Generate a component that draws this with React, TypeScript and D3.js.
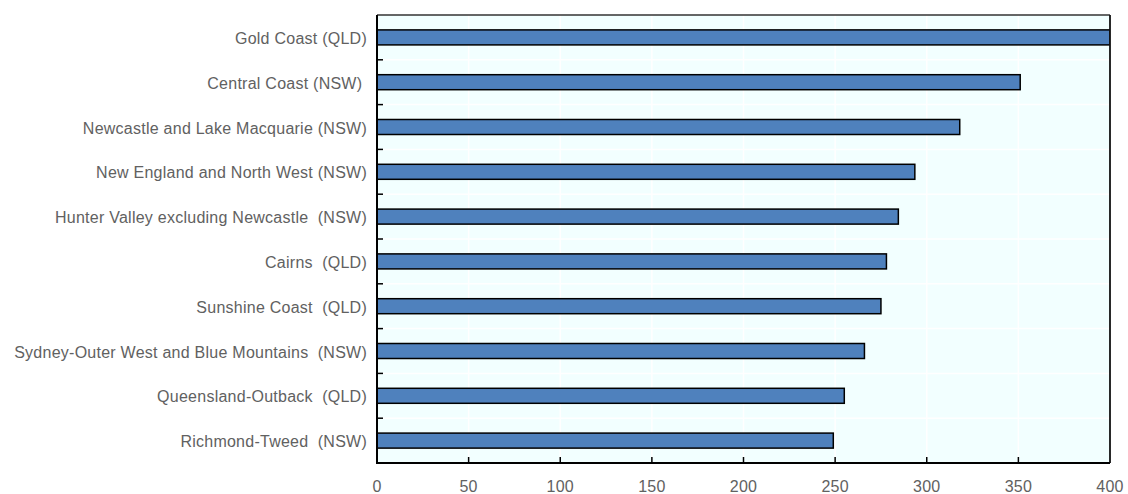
import React from "react";
import * as d3 from "d3";

const categories: string[] = [
  "Gold Coast (QLD)",
  "Central Coast (NSW) ",
  "Newcastle and Lake Macquarie (NSW)",
  "New England and North West (NSW)",
  "Hunter Valley excluding Newcastle  (NSW)",
  "Cairns  (QLD)",
  "Sunshine Coast  (QLD)",
  "Sydney-Outer West and Blue Mountains  (NSW)",
  "Queensland-Outback  (QLD)",
  "Richmond-Tweed  (NSW)",
];

const values: number[] = [400, 351, 318, 293.5, 284.5, 278, 275, 266, 255, 249];

const xTicks: number[] = [0, 50, 100, 150, 200, 250, 300, 350, 400];

const W = 1128;
const H = 494;
const margin = { left: 377, right: 18, top: 15, bottom: 31 };

export default function App() {
  const x = d3
    .scaleLinear()
    .domain([0, 400])
    .range([margin.left, W - margin.right]);
  const y = d3
    .scaleBand<string>()
    .domain(categories)
    .range([margin.top, H - margin.bottom])
    .padding(0);
  const bw = y.bandwidth();
  const barH = bw * 0.335;
  const x0 = margin.left;
  const x1 = W - margin.right;
  const y0 = margin.top;
  const y1 = H - margin.bottom;
  const boundaries = categories.slice(1).map((c) => y(c) as number);
  const font = "'Liberation Sans', Arial, sans-serif";
  const textColor = "#616161";

  return (
    <svg
      width={W}
      height={H}
      style={{ position: "absolute", left: 0, top: 0 }}
      xmlns="http://www.w3.org/2000/svg"
    >
      <defs>
        <clipPath id="plotclip">
          <rect x={x0} y={y0} width={x1 - x0} height={y1 - y0} />
        </clipPath>
      </defs>
      <rect x={0} y={0} width={W} height={H} fill="#ffffff" />
      <rect x={x0} y={y0} width={x1 - x0} height={y1 - y0} fill="#F2FFFF" />
      {xTicks.slice(1, -1).map((t) => (
        <line
          key={"gv" + t}
          x1={x(t)}
          x2={x(t)}
          y1={y0}
          y2={y1}
          stroke="#ffffff"
          strokeWidth={1.5}
        />
      ))}
      {boundaries.map((b, i) => (
        <line
          key={"gh" + i}
          x1={x0}
          x2={x1}
          y1={b}
          y2={b}
          stroke="#ffffff"
          strokeWidth={1.5}
        />
      ))}
      <g clipPath="url(#plotclip)">
        {categories.map((c, i) => {
          const cy = (y(c) as number) + bw / 2;
          return (
            <rect
              key={"b" + i}
              x={x(0)}
              y={cy - barH / 2}
              width={x(values[i]) - x(0)}
              height={barH}
              fill="#4F81BD"
              stroke="#000000"
              strokeWidth={1.5}
            />
          );
        })}
      </g>
      <line x1={x0} x2={x1} y1={y0} y2={y0} stroke="#333333" strokeWidth={1.5} />
      <line x1={x1} x2={x1} y1={y0} y2={y1} stroke="#111111" strokeWidth={1.8} />
      <line x1={x0} x2={x0} y1={y0} y2={y1 + 1} stroke="#000000" strokeWidth={2} />
      <line x1={x0 - 1} x2={x1} y1={y1} y2={y1} stroke="#000000" strokeWidth={2} />
      {boundaries.map((b, i) => (
        <line
          key={"yt" + i}
          x1={x0}
          x2={x0 + 6}
          y1={b}
          y2={b}
          stroke="#000000"
          strokeWidth={1.5}
        />
      ))}
      {xTicks.slice(1, -1).map((t) => (
        <line
          key={"xt" + t}
          x1={x(t)}
          x2={x(t)}
          y1={y1}
          y2={y1 - 6}
          stroke="#000000"
          strokeWidth={1.5}
        />
      ))}
      {categories.map((c, i) => (
        <text
          key={"yl" + i}
          x={x0 - 10}
          y={(y(c) as number) + bw / 2 + 6.5}
          textAnchor="end"
          fontFamily={font}
          fontSize={16}
          letterSpacing={0.25}
          fill={textColor}
          style={{ whiteSpace: "pre" }}
        >
          {c}
        </text>
      ))}
      {xTicks.map((t) => (
        <text
          key={"xl" + t}
          x={x(t)}
          y={y1 + 28.5}
          textAnchor="middle"
          fontFamily={font}
          fontSize={16}
          letterSpacing={0.25}
          fill={textColor}
        >
          {t}
        </text>
      ))}
    </svg>
  );
}
